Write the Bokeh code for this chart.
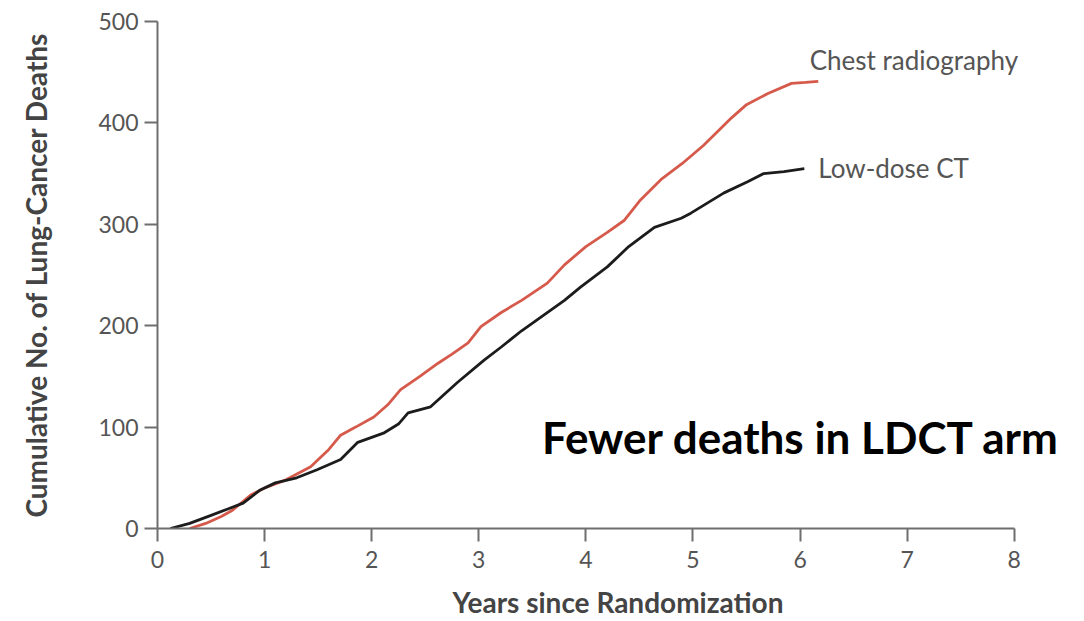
from bokeh.plotting import figure
from bokeh.models import Range1d, Label, FixedTicker
from bokeh.embed import file_html
from bokeh.resources import INLINE

# Chest radiography arm (years, cumulative deaths)
cxr_years = [0.30, 0.45, 0.60, 0.70, 0.87, 1.00, 1.20, 1.43, 1.60, 1.71, 1.85, 2.02, 2.15,
             2.27, 2.45, 2.62, 2.75, 2.90, 3.02, 3.21, 3.40, 3.64, 3.80, 4.00, 4.20, 4.36,
             4.51, 4.70, 4.90, 5.10, 5.36, 5.50, 5.70, 5.92, 6.05, 6.17]
cxr_deaths = [0, 5, 12, 18, 33, 40, 48, 61, 78, 92, 100, 110, 122,
              137, 150, 163, 172, 183, 199, 213, 225, 242, 260, 278, 292, 304,
              324, 344, 360, 378, 405, 418, 429, 439, 440, 441]

# Low-dose CT arm
ldct_years = [0.12, 0.30, 0.50, 0.65, 0.80, 0.96, 1.10, 1.30, 1.49, 1.71, 1.87, 2.11, 2.25,
              2.34, 2.55, 2.80, 3.05, 3.21, 3.40, 3.60, 3.80, 3.95, 4.20, 4.40, 4.64, 4.89,
              4.98, 5.29, 5.51, 5.66, 5.85, 6.04]
ldct_deaths = [0, 5, 13, 19, 25, 38, 45, 50, 58, 68, 85, 94, 103,
               114, 120, 144, 166, 179, 195, 210, 225, 238, 258, 278, 297, 306,
               311, 331, 342, 350, 352, 355]

x_ticks = [0, 1, 2, 3, 4, 5, 6, 7, 8]
y_ticks = [0, 100, 200, 300, 400, 500]

# frame extends beyond x=8 so the curve labels are not clipped; axis drawn only 0..8
p = figure(width=1082, height=621, output_backend="svg", toolbar_location=None,
           x_range=Range1d(0, 8.6), y_range=Range1d(0, 500),
           min_border_left=157, min_border_right=4, min_border_top=21, min_border_bottom=92)
p.outline_line_color = None
p.border_fill_color = "white"
p.xgrid.visible = False
p.ygrid.visible = False
p.background_fill_color = "white"

axis_color = "#6e6e6e"
for ax in (p.xaxis[0], p.yaxis[0]):
    ax.axis_line_color = axis_color
    ax.axis_line_width = 2
    ax.major_tick_line_color = axis_color
    ax.major_tick_line_width = 2
    ax.major_tick_out = 13
    ax.major_tick_in = 0
    ax.minor_tick_line_color = None
    ax.major_label_text_font = "Lato"
    ax.major_label_text_font_size = "23px"
    ax.major_label_text_color = "#555555"
    ax.axis_label_text_font = "Lato"
    ax.axis_label_text_font_style = "bold"
    ax.axis_label_text_font_size = "28px"
    ax.axis_label_text_color = "#444444"

p.xaxis.bounds = (0, 8)
p.xaxis.ticker = FixedTicker(ticks=x_ticks)
p.yaxis.ticker = FixedTicker(ticks=y_ticks)
p.xaxis.major_label_standoff = 9
p.yaxis.major_label_standoff = 6
p.xaxis.axis_label = "Years since Randomization"
p.yaxis.axis_label = "Cumulative No. of Lung-Cancer Deaths"
p.xaxis.axis_label_standoff = 14
p.yaxis.axis_label_standoff = 42

p.line(cxr_years, cxr_deaths, line_color="#d65a4b", line_width=2.8)
p.line(ldct_years, ldct_deaths, line_color="#1c1c1c", line_width=2.8)

p.add_layout(Label(x=6.09, y=462, text="Chest radiography", text_font="Lato",
                   text_font_size="26px", text_color="#555555", text_baseline="middle"))
p.add_layout(Label(x=6.17, y=356, text="Low-dose CT", text_font="Lato",
                   text_font_size="26px", text_color="#555555", text_baseline="middle"))
p.add_layout(Label(x=3.59, y=90, text="Fewer deaths in LDCT arm", text_font="Lato",
                   text_font_style="bold", text_font_size="44px", text_color="#000000",
                   text_baseline="middle"))

open("out.html", "w").write(file_html(p, INLINE))
